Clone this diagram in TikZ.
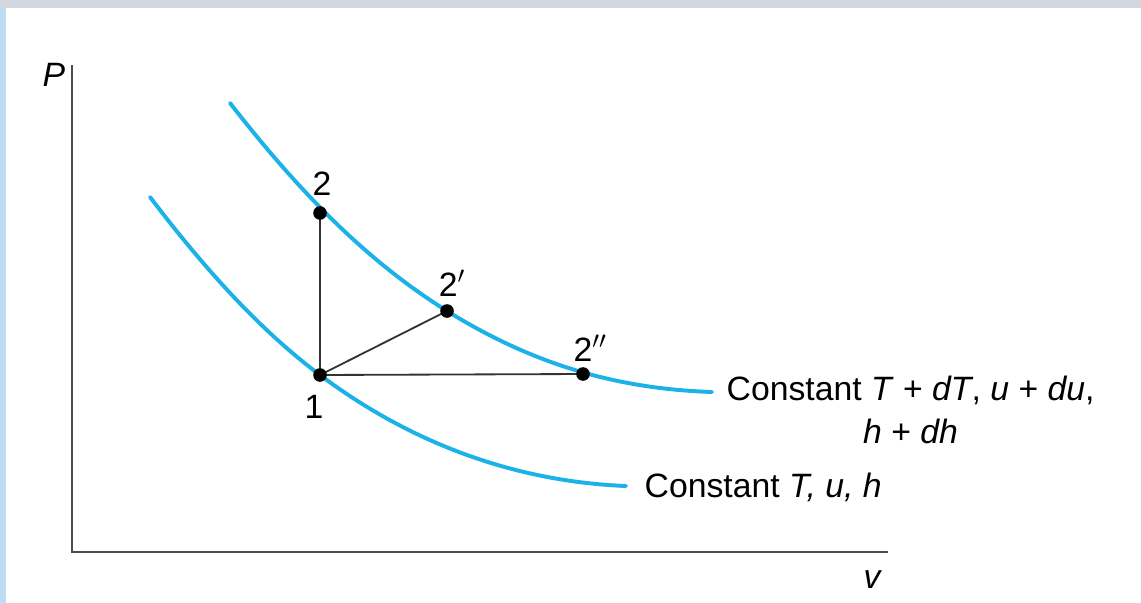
\documentclass[tikz,border=0pt]{standalone}
\usepackage{fontspec}
\setmainfont{Liberation Sans}
\usepackage{tikz}
\usetikzlibrary{positioning, backgrounds}
\definecolor{isoblue}{RGB}{28,178,232}
\definecolor{frametop}{RGB}{210,216,224}
\definecolor{frameleft}{RGB}{192,220,242}

\begin{document}
\begin{tikzpicture}[
    x=0.025cm, y=-0.025cm,
    axis/.style={draw=black!70, line width=2pt},
    isoline/.style={draw=isoblue, line width=2.8pt, line cap=round},
    path/.style={draw=black!80, line width=1.3pt},
    state/.style={circle, fill=black, inner sep=0pt, minimum size=0.34cm},
    lbl/.style={font=\fontsize{24}{30.5}\selectfont, inner sep=1pt},
]
\useasboundingbox (0,0) rectangle (1141,603);

% ── Frame of the screenshot ──
\fill[frametop] (0,0) rectangle (1141,8);
\fill[frameleft] (0,8) rectangle (6,603);

% ── Axes ──
\coordinate (origin) at (72,552);
\coordinate (ytop) at (72,65);
\coordinate (xend) at (888,552);
\draw[axis] (ytop) -- (origin) -- (xend);
\node[lbl, font=\fontsize{24}{30}\selectfont\itshape] (plabel) at (54,75) {P};
\node[lbl, font=\fontsize{24}{30}\selectfont\itshape] (vlabel) at (872,580) {v};

% ── States ──
\node[state] (s1) at (320,375) {};
\node[state] (s2) at (320,213) {};
\node[state] (s2p) at (447,311) {};
\node[state] (s2pp) at (583,374) {};

% ── Isotherms and processes (behind the states) ──
\coordinate (uptop) at (230,103);
\coordinate (upend) at (712,392);
\coordinate (lowtop) at (150,197);
\coordinate (lowend) at (626,486);
\begin{scope}[on background layer]
\draw[isoline] (uptop) .. controls (300,193) and (367,261) .. (s2p.center)
    .. controls (537,367) and (622,389) .. (upend);
\draw[isoline] (lowtop) .. controls (210,276) and (265,334) .. (s1.center)
    .. controls (420,450) and (526,482) .. (lowend);
\draw[path] (s1.center) -- (s2.center);
\draw[path] (s1.center) -- (s2p.center);
\draw[path] (s1.center) -- (s2pp.center);
\end{scope}

% ── State labels ──
\node[lbl] (l1) at (314,407) {1};
\node[lbl] (l2) at (322,184) {2};
\node[lbl] (l2p) at (452,283) {2$'$};
\node[lbl] (l2pp) at (590,348) {2$''$};

% ── Isotherm labels ──
\node[lbl, align=center, anchor=north west] (upper) at (725,374) {Constant \textit{T} + \textit{dT}, \textit{u} + \textit{du},\\ \textit{h} + \textit{dh}};
\node[lbl, anchor=west] (lower) at (643,487) {Constant \textit{T, u, h}};

\end{tikzpicture}
\end{document}
